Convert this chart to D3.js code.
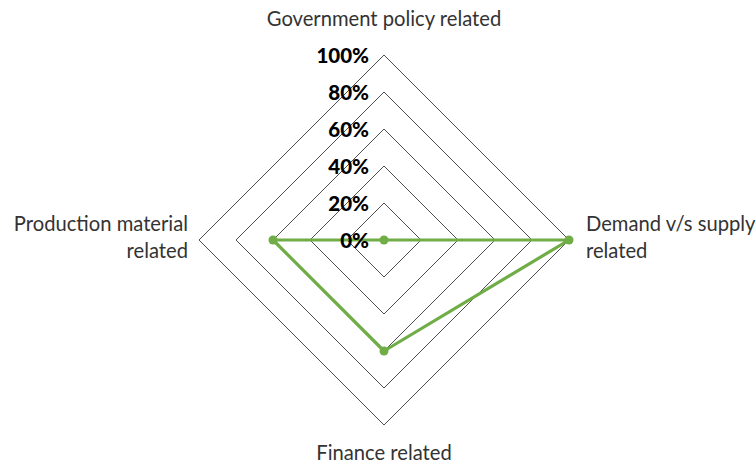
<!DOCTYPE html>
<html><head><meta charset="utf-8">
<script src="https://cdn.jsdelivr.net/npm/d3@7"></script>
<style>body{margin:0;background:#fff}svg{display:block}</style>
</head><body>
<svg id="c" width="756" height="465"></svg>
<script>
const categories = ["Government policy related", "Demand v/s supply related", "Finance related", "Production material related"];
const values = [0, 100, 60, 60];
const tickValues = [0, 20, 40, 60, 80, 100];
const tickLabels = ["0%", "20%", "40%", "60%", "80%", "100%"];

const svg = d3.select("#c");
const cx = 384, cy = 240, R = 185;
const r = d3.scaleLinear().domain([0, 100]).range([0, R]);
const ang = i => i * Math.PI / 2; // 0 = up, clockwise
const pt = (i, v) => [cx + r(v) * Math.sin(ang(i)), cy - r(v) * Math.cos(ang(i))];

const font = "Lato, 'Open Sans', sans-serif";
// grid rings
tickValues.filter(t => t > 0).forEach(t => {
  svg.append("path")
    .attr("d", d3.line()(categories.map((c, i) => pt(i, t))) + "Z")
    .attr("fill", "none").attr("stroke", "#222").attr("stroke-width", 0.8);
});

// series
svg.append("path")
  .attr("d", d3.line()(values.map((v, i) => pt(i, v))) + "Z")
  .attr("fill", "none").attr("stroke", "#70AD47").attr("stroke-width", 3.2)
  .attr("stroke-linejoin", "round");
svg.selectAll("circle.pt").data(values).join("circle")
  .attr("cx", (v, i) => pt(i, v)[0]).attr("cy", (v, i) => pt(i, v)[1])
  .attr("r", 4.5).attr("fill", "#70AD47");

// tick labels (drawn on top)
svg.selectAll("text.tick").data(tickValues).join("text")
  .attr("class", "tick")
  .attr("x", cx - 15).attr("y", d => cy - r(d) + 7.5)
  .attr("text-anchor", "end")
  .attr("font-family", font).attr("font-weight", "900").attr("font-size", 20.5)
  .attr("fill", "#000")
  .text((d, i) => tickLabels[i]);

// category labels
const lab = [
  {x: 384, y: 26, anchor: "middle"},
  {x: 586, y: 231, anchor: "start"},
  {x: 384, y: 460, anchor: "middle"},
  {x: 188, y: 231, anchor: "end"}
];
lab.forEach((l, i) => {
  const t = svg.append("text").attr("font-family", font).attr("font-size", 20.2)
    .attr("fill", "#333").attr("text-anchor", l.anchor);
  const parts = i === 1 ? ["Demand v/s supply", "related"] : i === 3 ? ["Production material", "related"] : [categories[i]];
  parts.forEach((s, j) => t.append("tspan").attr("x", l.x).attr("y", l.y + j * 27).text(s));
});
</script>
</body></html>
